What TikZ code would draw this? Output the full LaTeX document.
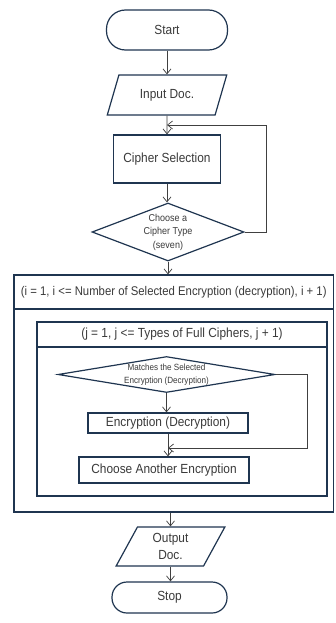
\documentclass[tikz,border=0pt]{standalone}
\usepackage{fontspec}
\setmainfont{Liberation Sans}[FakeStretch=0.9]
\usetikzlibrary{arrows.meta,shapes.geometric}
\definecolor{edgenavy}{HTML}{1F3550}
\definecolor{inkgray}{HTML}{3A3A3A}
\definecolor{linegray}{HTML}{404040}
\tikzset{
  x=1pt, y=-1pt,
  every node/.style={text=inkgray, inner sep=0pt, align=center},
  box/.style={draw=edgenavy, line width=1.2pt, rectangle},
  term/.style={box, rounded corners=19pt},
  io/.style={draw=edgenavy, line width=1.2pt, trapezium, trapezium stretches=true},
  decide/.style={draw=edgenavy, line width=1.2pt, diamond},
  flow/.style={draw=linegray, line width=0.7pt, -{Straight Barb[length=5pt,width=8pt]}},
  head/.style={font=\fontsize{12.6}{15}\selectfont},
  big/.style={font=\fontsize{13.2}{16.5}\selectfont},
  small/.style={font=\fontsize{10}{13.5}\selectfont},
  tiny/.style={font=\fontsize{9}{13}\selectfont},
}
\begin{document}
\begin{tikzpicture}
\useasboundingbox (0,0) rectangle (335,623);
\fill[white] (0,0) rectangle (335,623);

% terminals and top part
\node[term, big, minimum width=121pt, minimum height=40pt] (start) at (167,30) {Start};
\node[io, big, minimum width=120pt, minimum height=40pt,
      trapezium left angle=61, trapezium right angle=119] (input) at (167,95) {Input Doc.};
\node[box, big, minimum width=107pt, minimum height=48pt] (cipher) at (167,159) {Cipher Selection};
\node[decide, minimum width=152pt, minimum height=58pt] (pick) at (168,232) {};
\node[small] (picktext) at (pick.center) {Choose a\\Cipher Type\\(seven)};

% outer loop box
\node[box, minimum width=319.5pt, minimum height=237pt] (outerbox) at (173.75,393.5) {};
\node[box, head, minimum width=319.5pt, minimum height=34pt] (outerhead) at (173.75,292)
  {(i = 1, i <= Number of Selected Encryption (decryption), i + 1)};

% inner loop box
\node[box, minimum width=290pt, minimum height=174pt] (innerbox) at (182,409) {};
\node[box, big, minimum width=290pt, minimum height=25pt] (innerhead) at (182,334.5)
  {(j = 1, j <= Types of Full Ciphers, j + 1)};

\node[decide, minimum width=217pt, minimum height=36pt] (match) at (166.5,374.5) {};
\node[tiny] (matchtext) at (match.center) {Matches the Selected\\Encryption (Decryption)};
\node[box, big, minimum width=160pt, minimum height=20pt] (enc) at (168,423) {Encryption (Decryption)};
\node[box, big, minimum width=170pt, minimum height=26pt] (other) at (164,470) {Choose Another Encryption};

% bottom part
\node[io, big, minimum width=109pt, minimum height=39pt,
      trapezium left angle=66, trapezium right angle=114] (output) at (170.5,546.5) {Output\\Doc.};
\node[term, big, minimum width=115pt, minimum height=31pt, rounded corners=15pt] (stop) at (169.5,597.5) {Stop};

% loop-back coordinates
\coordinate (backin) at (167,125);
\coordinate (skipin) at (168,448);

% connectors
\draw[flow] (start) -- (input);
\draw[flow] (input) -- (cipher);
\draw[flow] (cipher) -- (cipher.south |- pick.north);
\draw[flow] (pick.east) -- (266,232) -- (266,125) -- (backin);
\draw[flow] (pick.south) -- (pick.south |- outerhead.north);
\draw[flow] (match.south) -- (match.south |- enc.north);
\draw[flow] (enc.south) -- (enc.south |- other.north);
\draw[flow] (match.east) -- (307,374.5) -- (307,448) -- (skipin);
\draw[flow] (outerbox.south -| output.north) -- (output.north);
\draw[flow] (output.south) -- (output.south |- stop.north);
\end{tikzpicture}
\end{document}
